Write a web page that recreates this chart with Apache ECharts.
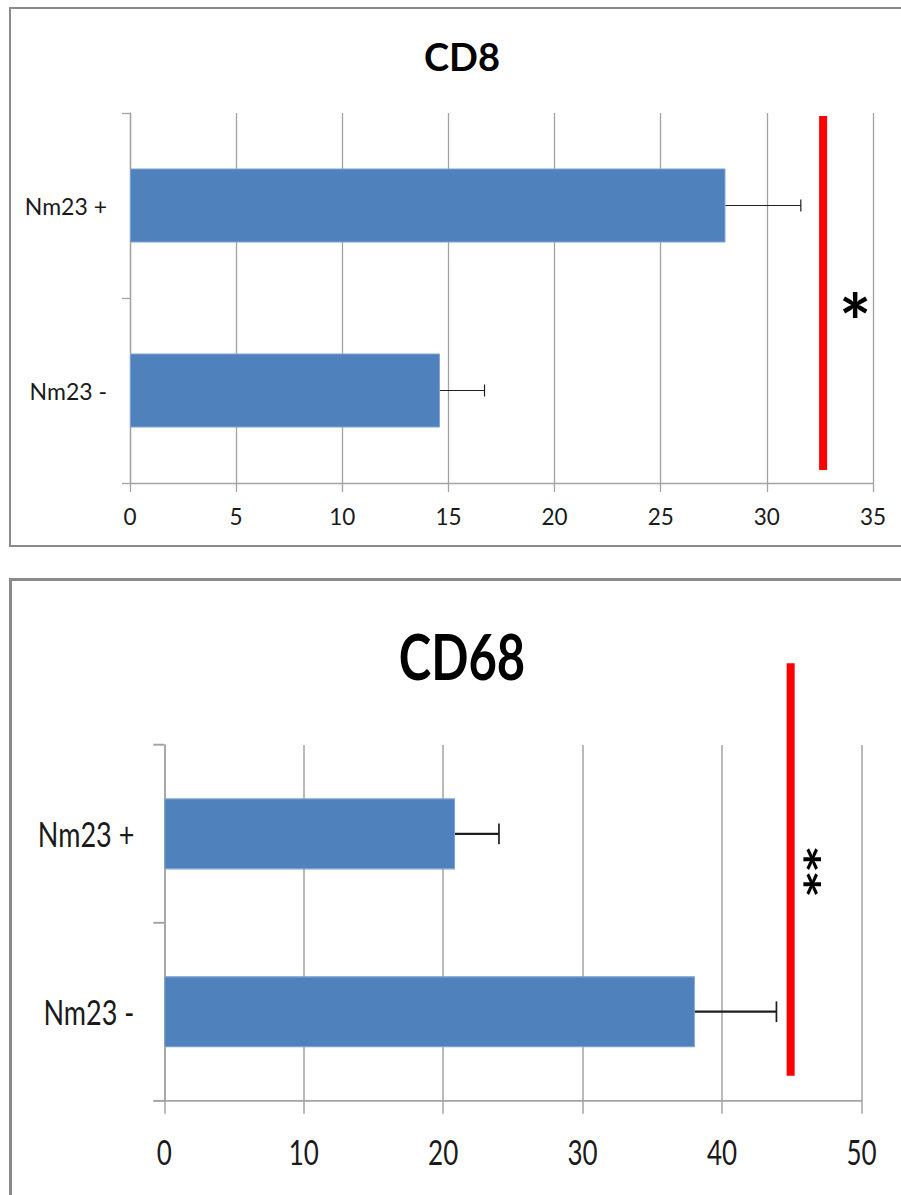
<!DOCTYPE html>
<html>
<head>
<meta charset="utf-8">
<script src="https://cdn.jsdelivr.net/npm/echarts@6/dist/echarts.min.js"></script>
<style>
  html, body { margin: 0; padding: 0; background: #fff; width: 901px; height: 1195px; overflow: hidden; }
  .panel { position: absolute; box-sizing: border-box; border: 2px solid #8a8a8a; background: #fff; }
  #p1 { left: 9px; top: 7px; width: 900px; height: 540px; }
  #p2 { left: 9px; top: 578px; width: 900px; height: 700px; border-width: 3px; }
  #c1 { position: absolute; left: 0; top: 0; width: 901px; height: 560px; }
  /* the lower chart is drawn taller than wide, as in the printed figure */
  #c2 { position: absolute; left: 0; top: 590px; width: 901px; height: 466px; transform: scaleY(1.3); transform-origin: 0 0; }
</style>
</head>
<body>
<div class="panel" id="p1"></div>
<div class="panel" id="p2"></div>
<div id="c1"></div>
<div id="c2"></div>
<script>
// ---- data ----
const categories = ['Nm23 +', 'Nm23 -'];

const cd8Title = 'CD8';
const cd8Means = [28.05, 14.6];
const cd8Errors = [3.55, 2.1];
const cd8Ticks = [0, 5, 10, 15, 20, 25, 30, 35];
const cd8SigX = 32.65;
const cd8SigMark = '*';

const cd68Title = 'CD68';
const cd68Means = [20.85, 38.05];
const cd68Errors = [3.15, 5.85];
const cd68Ticks = [0, 10, 20, 30, 40, 50];
const cd68SigX = 44.92;
const cd68SigMark = '**';

const FONT = 'Lato, "Open Sans", sans-serif';
const GRID_COLOR = '#a3a3a3';
const BAR_COLOR = '#4f81bd';
const SIG_COLOR = '#ff0000';

function errorBarRenderer(capHalf, lineWidth) {
  return function (params, api) {
    const v = api.value(0), e = api.value(1), c = api.value(2);
    const a = api.coord([v, c]);
    const b = api.coord([v + e, c]);
    return {
      type: 'group',
      children: [
        { type: 'line', shape: { x1: a[0], y1: a[1], x2: b[0], y2: b[1] },
          style: { stroke: '#1e1e1e', lineWidth: lineWidth } },
        { type: 'line', shape: { x1: b[0], y1: b[1] - capHalf, x2: b[0], y2: b[1] + capHalf },
          style: { stroke: '#1e1e1e', lineWidth: lineWidth } }
      ]
    };
  };
}

// significance bar plus its star marks; multiple stars are stacked top to bottom
function sigRenderer(s) {
  return function (params, api) {
    const x = api.value(0);
    const top = api.coord([x, 0]);
    const bot = api.coord([x, 1]);
    const band = api.size([0, 1])[1];
    const midY = (top[1] + bot[1]) / 2;
    const chars = s.mark.split('');
    const children = [
      { type: 'line',
        shape: { x1: top[0], y1: top[1] - band * s.extUp, x2: top[0], y2: bot[1] + band * s.extDown },
        style: { stroke: SIG_COLOR, lineWidth: s.width } }
    ];
    chars.forEach((ch, i) => {
      children.push({
        type: 'text',
        x: top[0] + s.dx,
        y: midY + s.dy + (i - (chars.length - 1) / 2) * s.step,
        rotation: s.rotation,
        style: { text: ch, x: 0, y: 0, align: 'center', verticalAlign: 'middle',
                 fontFamily: FONT, fontWeight: 'bold', fontSize: s.markSize, fill: '#000' }
      });
    });
    return { type: 'group', children: children };
  };
}

function buildOption(cfg) {
  const ticks = cfg.ticks;
  return {
    animation: false,
    graphic: [{
      type: 'text', x: cfg.titleX, y: cfg.titleY,
      style: { text: cfg.title, align: 'center', verticalAlign: 'middle',
               fontFamily: FONT, fontWeight: 'bold', fontSize: cfg.titleSize, fill: '#000' }
    }],
    grid: { left: cfg.grid[0], top: cfg.grid[1], right: cfg.grid[2], bottom: cfg.grid[3],
            containLabel: false, outerBoundsMode: 'none' },
    xAxis: {
      type: 'value',
      min: ticks[0], max: ticks[ticks.length - 1], interval: ticks[1] - ticks[0],
      axisLine: { show: true, lineStyle: { color: GRID_COLOR, width: cfg.axisWidth } },
      axisTick: { show: true, length: cfg.xTickLen, lineStyle: { color: GRID_COLOR, width: cfg.axisWidth } },
      splitLine: { show: true, lineStyle: { color: GRID_COLOR, width: cfg.axisWidth } },
      axisLabel: { fontFamily: FONT, fontSize: cfg.labelSize, color: '#1a1a1a', margin: cfg.xLabelMargin }
    },
    yAxis: {
      type: 'category', inverse: true, data: categories,
      axisLine: { show: true, lineStyle: { color: GRID_COLOR, width: cfg.axisWidth } },
      axisTick: { show: true, length: cfg.yTickLen, alignWithLabel: false, interval: 0,
                  lineStyle: { color: GRID_COLOR, width: cfg.axisWidth } },
      splitLine: { show: false },
      axisLabel: { fontFamily: FONT, fontSize: cfg.catSize, color: '#1a1a1a', margin: cfg.yLabelMargin }
    },
    series: [
      { type: 'bar', data: cfg.means, barWidth: '40%',
        itemStyle: { color: BAR_COLOR, borderColor: '#7ea2cf', borderWidth: 1 } },
      { type: 'custom', clip: false, z: 3,
        encode: { x: 0, y: 2 },
        data: cfg.means.map((m, i) => [m, cfg.errors[i], i]),
        renderItem: errorBarRenderer(cfg.capHalf, cfg.errWidth) },
      { type: 'custom', clip: false, z: 4,
        encode: { x: 0 },
        data: [[cfg.sigX]],
        renderItem: sigRenderer(cfg.sig) }
    ]
  };
}

const chart1 = echarts.init(document.getElementById('c1'), null, { renderer: 'svg' });
chart1.setOption(buildOption({
  title: cd8Title, titleX: 462, titleY: 56, titleSize: 38,
  grid: [130, 113, 28, 77],
  ticks: cd8Ticks, means: cd8Means, errors: cd8Errors, sigX: cd8SigX,
  axisWidth: 1.3, xTickLen: 9, yTickLen: 8,
  labelSize: 22.5, xLabelMargin: 22, catSize: 23, yLabelMargin: 23,
  capHalf: 6, errWidth: 1.2,
  sig: { mark: cd8SigMark, extUp: 0.484, extDown: 0.43, width: 8, dx: 32, dy: 22, step: 0,
         rotation: 0, markSize: 76 }
}));

const chart2 = echarts.init(document.getElementById('c2'), null, { renderer: 'svg' });
chart2.setOption(buildOption({
  title: cd68Title, titleX: 462, titleY: 50, titleSize: 49,
  grid: [164.3, 119.2, 39.5, 73.2],
  ticks: cd68Ticks, means: cd68Means, errors: cd68Errors, sigX: cd68SigX,
  axisWidth: 1.5, xTickLen: 10, yTickLen: 11,
  labelSize: 26, xLabelMargin: 26, catSize: 27, yLabelMargin: 30,
  capHalf: 8, errWidth: 1.7,
  sig: { mark: cd68SigMark, extUp: 0.96, extDown: 0.36, width: 8, dx: 31.6, dy: -39.3, step: 19.2,
         rotation: Math.PI / 2, markSize: 52 }
}));
</script>
</body>
</html>
